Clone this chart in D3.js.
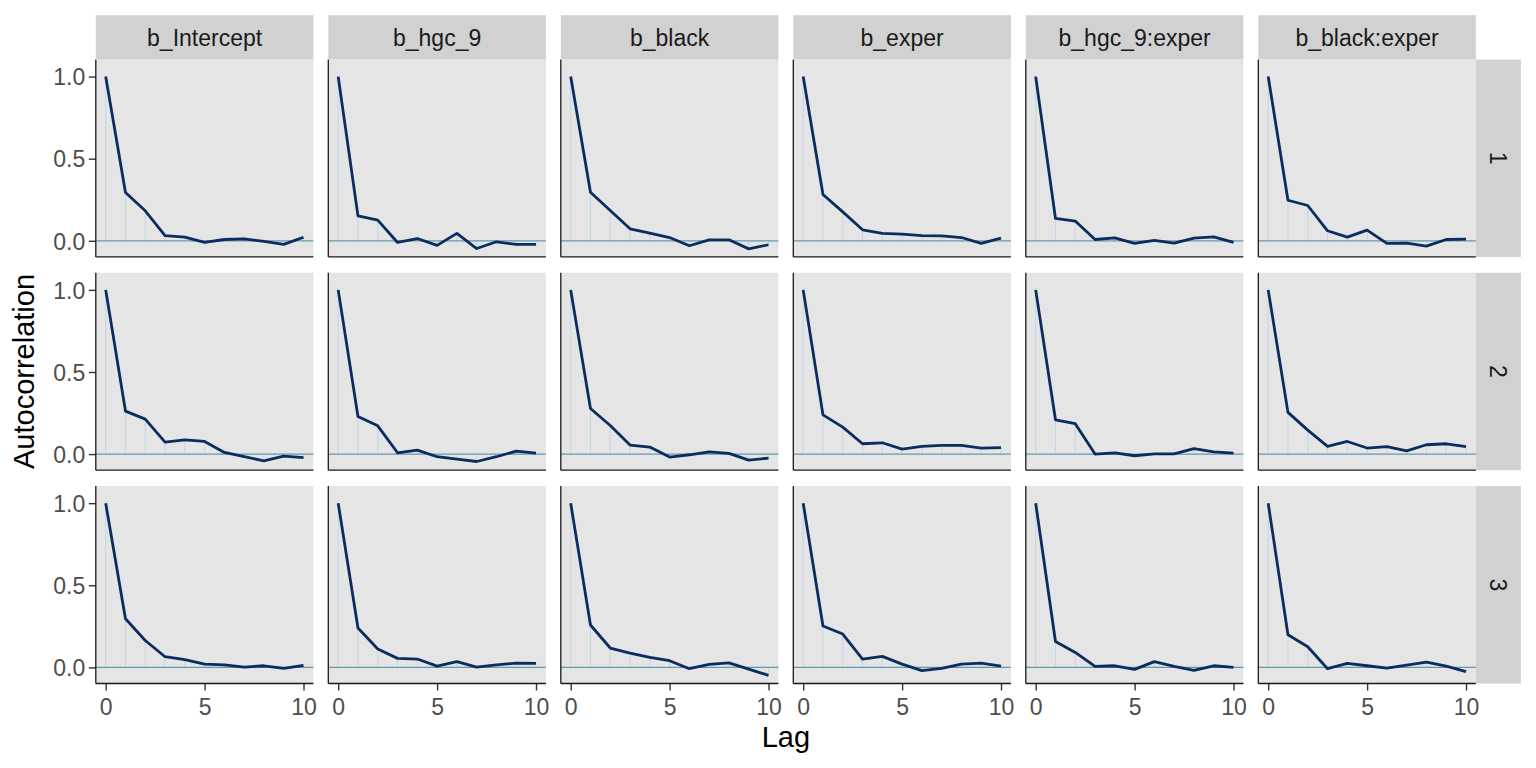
<!DOCTYPE html>
<html>
<head>
<meta charset="utf-8">
<script src="https://cdn.jsdelivr.net/npm/d3@7"></script>
<style>
  html, body { margin: 0; padding: 0; background: #ffffff; }
  svg { display: block; }
  text { font-family: "Liberation Sans", Arial, Helvetica, sans-serif; }
</style>
</head>
<body>
<svg id="chart" width="1536" height="768"></svg>
<script>
// ---------- data ----------
const params = ["b_Intercept", "b_hgc_9", "b_black", "b_exper", "b_hgc_9:exper", "b_black:exper"];
const chains = ["1", "2", "3"];
const lags = [0, 1, 2, 3, 4, 5, 6, 7, 8, 9, 10];
const xTicks = [0, 5, 10];
const yTicks = [0.0, 0.5, 1.0];

// autocorrelation per parameter (rows follow params), lags 0..10
const acfChain1 = [
  [1, 0.294, 0.183, 0.032, 0.022, -0.010, 0.008, 0.012, -0.004, -0.022, 0.022],
  [1, 0.152, 0.126, -0.010, 0.014, -0.028, 0.045, -0.047, -0.006, -0.022, -0.022],
  [1, 0.296, 0.185, 0.073, 0.047, 0.020, -0.030, 0.006, 0.006, -0.049, -0.024],
  [1, 0.282, 0.176, 0.067, 0.045, 0.041, 0.032, 0.030, 0.020, -0.016, 0.016],
  [1, 0.136, 0.120, 0.008, 0.018, -0.016, 0.002, -0.014, 0.016, 0.024, -0.010],
  [1, 0.247, 0.215, 0.061, 0.022, 0.065, -0.016, -0.014, -0.032, 0.008, 0.010]
];
const acfChain2 = [
  [1, 0.262, 0.213, 0.073, 0.087, 0.077, 0.010, -0.016, -0.041, -0.012, -0.022],
  [1, 0.229, 0.172, 0.008, 0.024, -0.016, -0.030, -0.045, -0.016, 0.018, 0.006],
  [1, 0.278, 0.174, 0.055, 0.043, -0.018, -0.004, 0.014, 0.004, -0.037, -0.024],
  [1, 0.239, 0.164, 0.063, 0.069, 0.030, 0.047, 0.053, 0.053, 0.037, 0.039],
  [1, 0.209, 0.185, 0.000, 0.008, -0.010, 0.002, 0.002, 0.034, 0.014, 0.006],
  [1, 0.254, 0.146, 0.047, 0.077, 0.037, 0.045, 0.020, 0.057, 0.063, 0.045]
];
const acfChain3 = [
  [1, 0.296, 0.164, 0.065, 0.047, 0.020, 0.016, 0.002, 0.010, -0.006, 0.012],
  [1, 0.240, 0.112, 0.055, 0.051, 0.008, 0.035, 0.002, 0.016, 0.026, 0.024],
  [1, 0.258, 0.118, 0.087, 0.061, 0.041, -0.008, 0.018, 0.028, -0.010, -0.049],
  [1, 0.252, 0.203, 0.051, 0.067, 0.020, -0.020, -0.006, 0.020, 0.026, 0.008],
  [1, 0.158, 0.091, 0.006, 0.010, -0.012, 0.035, 0.006, -0.018, 0.010, 0.000],
  [1, 0.199, 0.126, -0.008, 0.024, 0.010, -0.004, 0.014, 0.032, 0.008, -0.026]
];
const acfByChain = [acfChain1, acfChain2, acfChain3];

// ---------- layout ----------
const svg = d3.select("#chart");
const left0 = 95.8, colStep = 232.5, panelW = 217.6;
const top0 = 59.5, rowStep = 213.3, panelH = 197.4;
const stripTopH = 44.3, stripRightW = 45;

const colors = {
  panel: "#E5E5E5", strip: "#D1D1D1",
  line: "#0a2d5e", hline: "#6497b1", seg: "#c3d8e8",
  axis: "#1a1a1a", tick: "#333333", tickText: "#4d4d4d", stripText: "#1a1a1a"
};

const x = d3.scaleLinear().domain([-0.5, 10.5]).range([0, panelW]);
const y = d3.scaleLinear().domain([-0.098, 1.104]).range([panelH, 0]);

const lineGen = d3.line().x((d, i) => x(lags[i])).y(d => y(d));

chains.forEach((ch, r) => {
  params.forEach((p, c) => {
    const px = left0 + c * colStep, py = top0 + r * rowStep;
    const g = svg.append("g").attr("transform", `translate(${px},${py})`);
    const vals = acfByChain[r][c];

    g.append("rect").attr("width", panelW).attr("height", panelH).attr("fill", colors.panel);

    // vertical segments
    g.selectAll("line.seg").data(vals).enter().append("line")
      .attr("class", "seg")
      .attr("x1", (d, i) => x(lags[i])).attr("x2", (d, i) => x(lags[i]))
      .attr("y1", y(0)).attr("y2", d => y(d))
      .attr("stroke", colors.seg).attr("stroke-width", 1.1);

    // zero line
    g.append("line").attr("x1", 0).attr("x2", panelW)
      .attr("y1", y(0)).attr("y2", y(0))
      .attr("stroke", colors.hline).attr("stroke-width", 1.3);

    // acf line
    g.append("path").datum(vals).attr("d", lineGen)
      .attr("fill", "none").attr("stroke", colors.line)
      .attr("stroke-width", 2.8).attr("stroke-linejoin", "round");

    // axes
    const yAx = g.append("g").call(d3.axisLeft(y).tickValues(yTicks)
      .tickFormat(d3.format(".1f")).tickSize(c === 0 ? 7 : 0).tickPadding(4));
    yAx.select(".domain").remove();
    yAx.selectAll(".tick line").attr("stroke", colors.tick).attr("stroke-width", 1.4);
    yAx.selectAll(".tick text").attr("fill", colors.tickText)
      .style("font-size", "23px").attr("x", -10.5).attr("dy", "0.36em")
      .style("display", c === 0 ? null : "none");

    if (r === chains.length - 1) {
      const xAx = g.append("g").attr("transform", `translate(0,${panelH})`)
        .call(d3.axisBottom(x).tickValues(xTicks).tickSize(7).tickPadding(5));
      xAx.select(".domain").remove();
      xAx.selectAll(".tick line").attr("stroke", colors.tick).attr("stroke-width", 1.4);
      xAx.selectAll(".tick text").attr("fill", colors.tickText)
        .style("font-size", "23px").attr("y", 0).attr("dy", "1.37em");
    }

    // axis lines
    g.append("line").attr("x1", 0).attr("x2", 0).attr("y1", 0).attr("y2", panelH)
      .attr("stroke", colors.axis).attr("stroke-width", 1.3);
    g.append("line").attr("x1", 0).attr("x2", panelW).attr("y1", panelH).attr("y2", panelH)
      .attr("stroke", colors.axis).attr("stroke-width", 1.3);

    // top strips
    if (r === 0) {
      const sg = svg.append("g").attr("transform", `translate(${px},${py - stripTopH})`);
      sg.append("rect").attr("width", panelW).attr("height", stripTopH).attr("fill", colors.strip);
      sg.append("text").attr("x", panelW / 2).attr("y", stripTopH / 2 + 8.8)
        .attr("text-anchor", "middle").attr("fill", colors.stripText)
        .style("font-size", "23px").text(p);
    }
    // right strips
    if (c === params.length - 1) {
      const rg = svg.append("g").attr("transform", `translate(${px + panelW},${py})`);
      rg.append("rect").attr("width", stripRightW).attr("height", panelH).attr("fill", colors.strip);
      rg.append("text")
        .attr("transform", `translate(${stripRightW / 2 - 8.5},${panelH / 2}) rotate(90)`)
        .attr("text-anchor", "middle").attr("fill", colors.stripText)
        .style("font-size", "23px").text(ch);
    }
  });
});

// axis titles
const plotLeft = left0, plotRight = left0 + 5 * colStep + panelW;
svg.append("text").attr("x", (plotLeft + plotRight) / 2).attr("y", 747)
  .attr("text-anchor", "middle").attr("fill", "#000").style("font-size", "29px").text("Lag");
const midY = (top0 + top0 + 2 * rowStep + panelH) / 2;
svg.append("text").attr("transform", `translate(33.5,${midY}) rotate(-90)`)
  .attr("text-anchor", "middle").attr("fill", "#000").style("font-size", "29px").text("Autocorrelation");
</script>
</body>
</html>
